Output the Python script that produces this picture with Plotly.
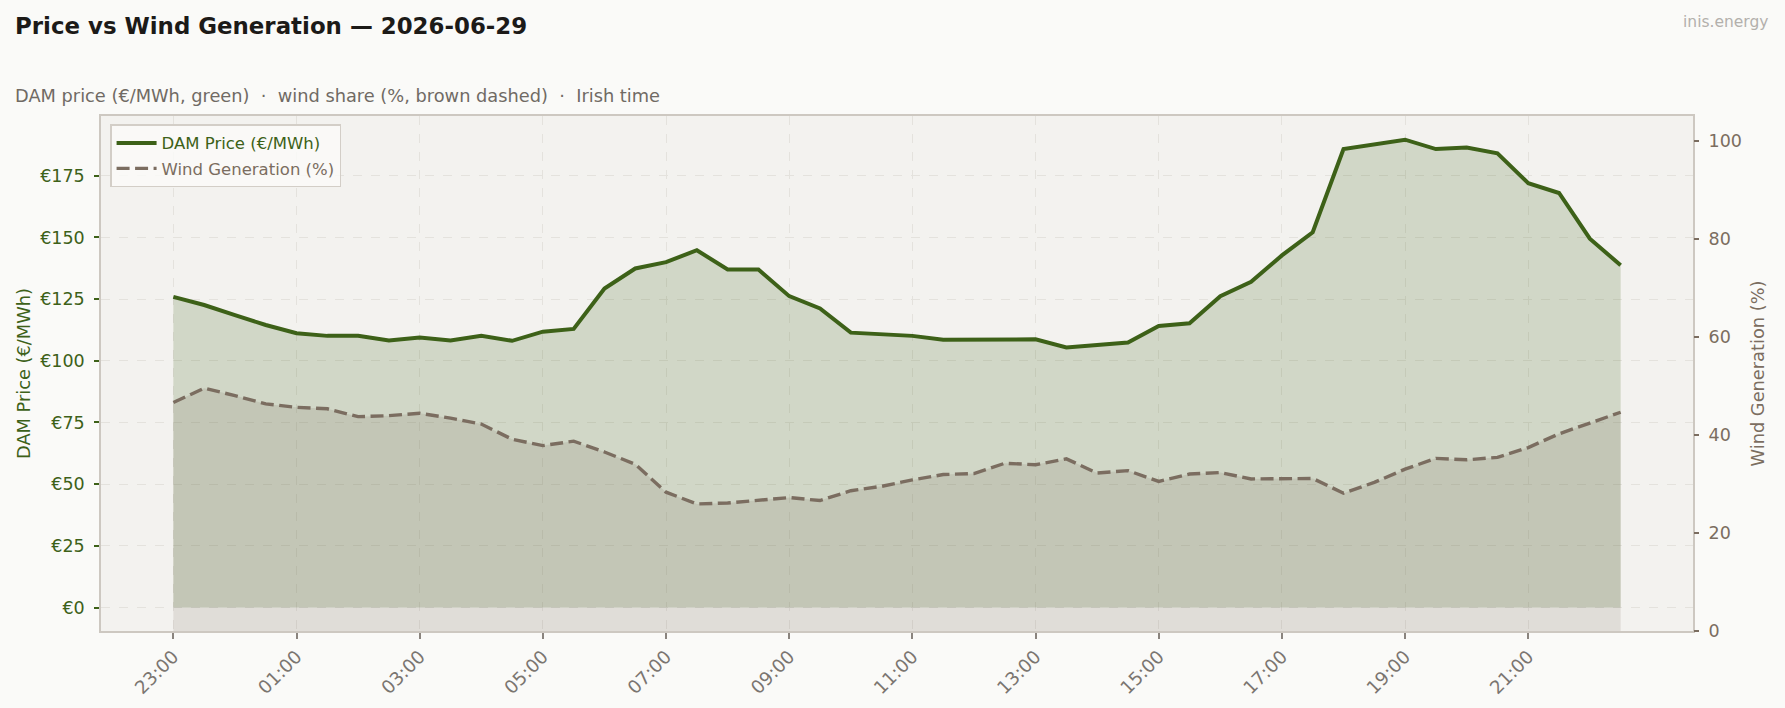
import pandas as pd
import plotly.graph_objects as go

# ---- data (half-hourly, Irish time, starting 23:00 the evening before) ----
start = pd.Timestamp("2026-06-28 23:00")
times = pd.date_range(start, periods=48, freq="30min")

price = [125.9, 122.6, 118.5, 114.5, 111.2, 110.1, 110.1, 108.2, 109.4, 108.2,
         110.1, 108.1, 111.8, 112.9, 129.3, 137.4, 140.0, 144.8, 137.0, 137.0,
         126.2, 121.2, 111.4, 110.9, 110.1, 108.5, 108.5, 108.5, 108.7, 105.4,
         106.5, 107.4, 114.1, 115.2, 126.2, 132.0, 142.7, 152.1, 185.8, 187.8,
         189.6, 185.8, 186.4, 184.1, 172.0, 168.0, 149.5, 138.7]

wind = [46.6, 49.5, 48.0, 46.3, 45.6, 45.3, 43.7, 43.9, 44.4, 43.4,
        42.2, 39.1, 37.8, 38.7, 36.5, 34.0, 28.3, 25.9, 26.1, 26.6,
        27.2, 26.6, 28.6, 29.5, 30.8, 31.9, 32.1, 34.2, 33.9, 35.1,
        32.2, 32.7, 30.5, 32.0, 32.3, 31.0, 31.0, 31.1, 28.1, 30.3,
        33.0, 35.2, 34.9, 35.4, 37.4, 40.2, 42.4, 44.6]

tick_times = pd.date_range(start, periods=12, freq="2h")
tick_labels = [t.strftime("%H:%M") for t in tick_times]

title_text = "Price vs Wind Generation — 2026-06-29"
subtitle_text = "DAM price (€/MWh, green)  ·  wind share (%, brown dashed)  ·  Irish time"
price_name = "DAM Price (€/MWh)"
wind_name = "Wind Generation (%)"

GREEN = "#3d6118"
BROWN = "#7b6d60"
FONT = "DejaVu Sans"

fig = go.Figure()
# area fills (no legend entries)
fig.add_trace(go.Scatter(
    x=times, y=price, mode="lines", yaxis="y", showlegend=False, hoverinfo="skip",
    line=dict(width=0, color="rgba(0,0,0,0)"),
    fill="tozeroy", fillcolor="rgba(61,97,24,0.185)",
))
fig.add_trace(go.Scatter(
    x=times, y=price, mode="lines", yaxis="y",
    name=f"<span style='color:{GREEN}'>{price_name}</span>",
    legendgroup="p",
    line=dict(color=GREEN, width=4.0),
))
fig.add_trace(go.Scatter(
    x=times, y=wind, mode="lines", yaxis="y2", showlegend=False, hoverinfo="skip",
    line=dict(width=0, color="rgba(0,0,0,0)"),
    fill="tozeroy", fillcolor="rgba(123,109,96,0.155)",
))
fig.add_trace(go.Scatter(
    x=times, y=wind, mode="lines", yaxis="y2",
    name=f"<span style='color:{BROWN}'>{wind_name}</span>",
    legendgroup="w",
    line=dict(color=BROWN, width=3.4, dash="13px,5.5px"),
))

x0 = start - pd.Timedelta(minutes=70.5)
x1 = start + pd.Timedelta(hours=24, minutes=40.5)

fig.update_layout(
    width=1785, height=708, autosize=False,
    margin=dict(l=101, r=92, t=116, b=77, pad=0),
    paper_bgcolor="#fafaf8", plot_bgcolor="#f3f2ef",
    font=dict(family=FONT, size=16, color="#6e6862"),
    showlegend=True,
    legend=dict(
        x=0.0057, y=0.984, xanchor="left", yanchor="top",
        bgcolor="rgba(250,250,248,0.85)", bordercolor="#d3cec7", borderwidth=1.5,
        font=dict(family=FONT, size=16.5),
        tracegroupgap=1, itemwidth=40,
    ),
    xaxis=dict(
        type="date", range=[x0, x1], automargin=False,
        tickvals=tick_times, ticktext=tick_labels, tickangle=-45,
        tickfont=dict(family=FONT, size=18.3, color="#7a7570"),
        ticks="outside", ticklen=6, tickwidth=1.5, tickcolor="#8a847e",
        showgrid=True, gridcolor="#e4e2dd", gridwidth=1, griddash="dash",
        showline=True, mirror=True, linecolor="#cdc8c1", linewidth=1.5,
        zeroline=False,
    ),
    yaxis=dict(
        range=[-9.5, 199.2], dtick=25, tick0=0, tickprefix="€", automargin=False,
        tickfont=dict(family=FONT, size=17.5, color=GREEN),
        ticks="outside", ticklen=5, tickwidth=1.5, tickcolor=GREEN,
        ticklabelstandoff=6,
        showgrid=True, gridcolor="#e4e2dd", gridwidth=1, griddash="dash",
        showline=True, mirror=True, linecolor="#cdc8c1", linewidth=1.5,
        zeroline=False,
        title=dict(text=price_name, font=dict(family=FONT, size=17.8, color=GREEN), standoff=5),
    ),
    yaxis2=dict(
        overlaying="y", side="right", range=[0, 105], dtick=20, tick0=0, automargin=False,
        tickfont=dict(family=FONT, size=17.5, color=BROWN),
        ticks="outside", ticklen=5, tickwidth=1.5, tickcolor=BROWN,
        ticklabelstandoff=6,
        showgrid=False, zeroline=False, showline=False,
        title=dict(text=wind_name, font=dict(family=FONT, size=17.8, color=BROWN), standoff=10),
    ),
    annotations=[
        dict(text=f"<b>{title_text}</b>", xref="paper", yref="paper",
             x=-0.0553, y=1.1745, xanchor="left", yanchor="middle", showarrow=False,
             font=dict(family=FONT, size=22.9, color="#1c1a18")),
        dict(text=subtitle_text, xref="paper", yref="paper",
             x=-0.0553, y=1.0396, xanchor="left", yanchor="middle", showarrow=False,
             font=dict(family=FONT, size=17.8, color="#706a64")),
        dict(text="inis.energy", xref="paper", yref="paper",
             x=1.0484, y=1.1832, xanchor="right", yanchor="middle", showarrow=False,
             font=dict(family=FONT, size=15.5, color="#b3b0ac")),
    ],
)

fig.write_html("out.html")
